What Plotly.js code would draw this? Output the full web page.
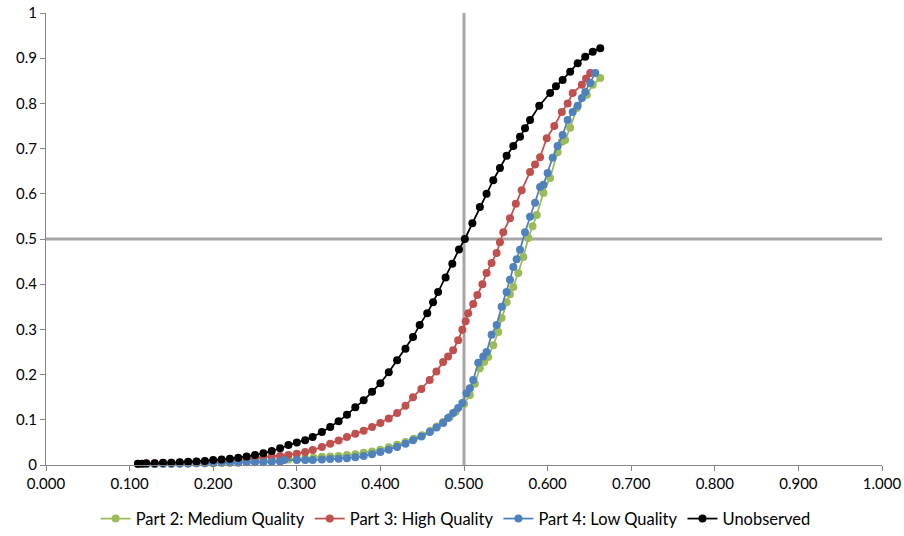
<!DOCTYPE html>
<html>
<head>
<meta charset="utf-8">
<script src="https://cdn.plot.ly/plotly-3.0.1.min.js"></script>
<style>html,body{margin:0;padding:0;background:#fff;}#chart{width:904px;height:536px;}</style>
</head>
<body>
<div id="chart"></div>
<script>
// Part 2: Medium Quality (green)
const medX = [0.110,0.120,0.130,0.140,0.150,0.160,0.170,0.180,0.190,0.200,0.210,0.220,0.230,0.240,0.250,0.260,0.270,0.280,0.290,0.300,0.310,0.320,0.330,0.340,0.350,0.360,0.370,0.380,0.390,0.400,0.410,0.420,0.430,0.440,0.450,0.460,0.468,0.475,0.483,0.490,0.500,0.507,0.513,0.519,0.524,0.529,0.535,0.541,0.545,0.551,0.555,0.559,0.565,0.571,0.577,0.582,0.587,0.595,0.603,0.612,0.617,0.621,0.627,0.635,0.647,0.654,0.663];
const medY = [0.002,0.002,0.002,0.003,0.003,0.003,0.004,0.004,0.004,0.005,0.005,0.006,0.006,0.007,0.008,0.009,0.010,0.011,0.012,0.013,0.015,0.016,0.018,0.019,0.020,0.022,0.024,0.027,0.030,0.034,0.039,0.045,0.051,0.058,0.066,0.076,0.085,0.095,0.106,0.118,0.135,0.155,0.180,0.214,0.228,0.239,0.265,0.294,0.325,0.360,0.378,0.394,0.425,0.460,0.502,0.528,0.553,0.602,0.635,0.692,0.715,0.719,0.746,0.790,0.819,0.841,0.856];

// Part 3: High Quality (red)
const highX = [0.110,0.120,0.130,0.140,0.150,0.160,0.170,0.180,0.190,0.200,0.210,0.220,0.230,0.240,0.250,0.260,0.270,0.280,0.290,0.300,0.310,0.319,0.330,0.340,0.350,0.360,0.370,0.380,0.390,0.400,0.410,0.420,0.430,0.439,0.449,0.459,0.467,0.475,0.481,0.487,0.493,0.498,0.502,0.505,0.511,0.516,0.522,0.527,0.533,0.539,0.543,0.547,0.555,0.562,0.569,0.579,0.585,0.591,0.599,0.608,0.617,0.624,0.630,0.641,0.646,0.651];
const highY = [0.003,0.003,0.004,0.004,0.005,0.005,0.006,0.007,0.007,0.008,0.009,0.010,0.011,0.013,0.015,0.017,0.019,0.020,0.022,0.025,0.029,0.033,0.040,0.047,0.054,0.062,0.069,0.076,0.084,0.093,0.103,0.115,0.131,0.150,0.168,0.188,0.207,0.228,0.240,0.254,0.276,0.299,0.318,0.336,0.356,0.376,0.400,0.425,0.447,0.469,0.493,0.515,0.546,0.578,0.608,0.648,0.665,0.681,0.723,0.750,0.781,0.800,0.823,0.841,0.855,0.867];

// Part 4: Low Quality (blue)
const lowX = [0.110,0.120,0.130,0.140,0.150,0.160,0.170,0.180,0.190,0.200,0.210,0.220,0.230,0.240,0.250,0.260,0.270,0.280,0.285,0.300,0.310,0.319,0.330,0.340,0.350,0.360,0.370,0.380,0.390,0.400,0.410,0.420,0.430,0.439,0.449,0.459,0.467,0.475,0.481,0.487,0.493,0.498,0.503,0.507,0.511,0.517,0.523,0.527,0.533,0.539,0.545,0.551,0.555,0.559,0.563,0.567,0.573,0.579,0.585,0.591,0.595,0.600,0.606,0.612,0.618,0.624,0.630,0.636,0.641,0.645,0.651,0.657];
const lowY = [0.002,0.002,0.002,0.003,0.003,0.003,0.003,0.004,0.004,0.004,0.005,0.005,0.005,0.006,0.006,0.006,0.007,0.008,0.011,0.011,0.011,0.011,0.012,0.013,0.014,0.015,0.017,0.020,0.024,0.029,0.034,0.040,0.047,0.055,0.063,0.073,0.083,0.093,0.104,0.115,0.126,0.137,0.159,0.170,0.188,0.226,0.240,0.250,0.288,0.310,0.350,0.383,0.410,0.438,0.455,0.476,0.515,0.549,0.580,0.615,0.620,0.646,0.680,0.706,0.730,0.763,0.781,0.795,0.812,0.825,0.845,0.867];

// Unobserved (black)
const unobsX = [0.110,0.115,0.120,0.130,0.140,0.150,0.160,0.170,0.180,0.190,0.200,0.210,0.220,0.230,0.240,0.250,0.260,0.270,0.280,0.290,0.300,0.310,0.319,0.330,0.340,0.350,0.360,0.370,0.380,0.390,0.400,0.410,0.420,0.430,0.439,0.447,0.456,0.463,0.469,0.478,0.486,0.494,0.501,0.510,0.519,0.527,0.535,0.543,0.551,0.559,0.567,0.573,0.579,0.590,0.603,0.610,0.618,0.627,0.636,0.645,0.654,0.663];
const unobsY = [0.003,0.003,0.004,0.004,0.005,0.005,0.006,0.007,0.008,0.009,0.011,0.012,0.014,0.016,0.019,0.022,0.026,0.031,0.037,0.044,0.050,0.055,0.062,0.073,0.084,0.097,0.111,0.128,0.143,0.162,0.181,0.205,0.232,0.257,0.283,0.310,0.336,0.360,0.383,0.415,0.445,0.477,0.500,0.535,0.571,0.600,0.630,0.657,0.684,0.706,0.726,0.745,0.763,0.795,0.823,0.838,0.852,0.870,0.889,0.903,0.914,0.922];

const names = ["Part 2: Medium Quality", "Part 3: High Quality", "Part 4: Low Quality", "Unobserved"];
const colors = ["#9BBB59", "#C0504D", "#4F81BD", "#000000"];
const xs = [medX, highX, lowX, unobsX];
const ys = [medY, highY, lowY, unobsY];

const xTicks = [0,0.1,0.2,0.3,0.4,0.5,0.6,0.7,0.8,0.9,1.0];
const yTicks = [0,0.1,0.2,0.3,0.4,0.5,0.6,0.7,0.8,0.9,1.0];

const traces = names.map((n, i) => ({
  type: "scatter",
  mode: "lines+markers",
  name: n,
  x: xs[i],
  y: ys[i],
  line: {color: colors[i], width: 1.75},
  marker: {color: colors[i], size: 8, symbol: "circle"},
  cliponaxis: false
}));

const fontFam = "Lato, 'Open Sans', 'Liberation Sans', sans-serif";

const layout = {
  width: 904,
  height: 536,
  margin: {l: 46, r: 22, t: 13, b: 71, autoexpand: false},
  paper_bgcolor: "#ffffff",
  plot_bgcolor: "#ffffff",
  font: {family: fontFam, size: 15, color: "#000000"},
  showlegend: true,
  legend: {
    orientation: "h",
    x: 0.49, xanchor: "center", xref: "paper",
    y: 0.032, yanchor: "middle", yref: "container",
    font: {family: fontFam, size: 16.5, color: "#000"},
    itemwidth: 30,
    traceorder: "normal"
  },
  xaxis: {
    range: [0, 1],
    tickvals: xTicks,
    tickformat: ".3f",
    ticks: "outside",
    ticklen: 5,
    tickcolor: "#868686",
    showline: true,
    linecolor: "#868686",
    linewidth: 1,
    showgrid: false,
    zeroline: false,
    automargin: false,
    tickfont: {family: fontFam, size: 15, color: "#000"}
  },
  yaxis: {
    range: [0, 1],
    tickvals: yTicks,
    ticks: "outside",
    ticklen: 5,
    tickcolor: "#868686",
    showline: true,
    linecolor: "#868686",
    linewidth: 1,
    showgrid: false,
    zeroline: false,
    automargin: false,
    tickfont: {family: fontFam, size: 15, color: "#000"}
  },
  shapes: [
    {type: "line", xref: "x", yref: "y", x0: 0.5, x1: 0.5, y0: 0, y1: 1, line: {color: "#A6A6A6", width: 3}, layer: "below"},
    {type: "line", xref: "x", yref: "y", x0: 0, x1: 1, y0: 0.5, y1: 0.5, line: {color: "#A6A6A6", width: 3}, layer: "below"}
  ]
};

Plotly.newPlot("chart", traces, layout, {displayModeBar: false, staticPlot: true});
</script>
</body>
</html>
